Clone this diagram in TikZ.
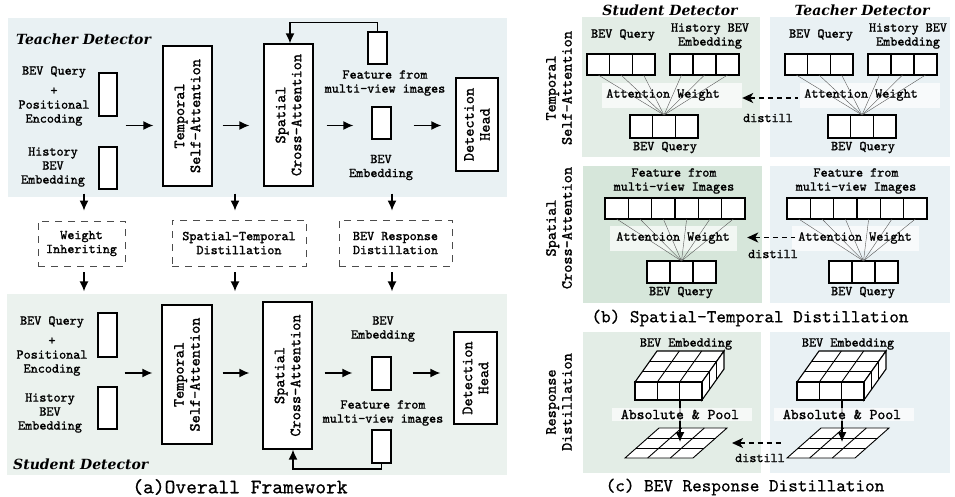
\documentclass[tikz,border=0pt]{standalone}
\usepackage{fontspec}
\setmainfont{Liberation Serif}
\newfontfamily\mono{lmmono10-regular.otf}[FakeBold=1.3]
\newfontfamily\capfont{lmmono10-regular.otf}[FakeBold=0.6]
\newfontfamily\headfam{DejaVu Serif}
\usetikzlibrary{arrows.meta}
\definecolor{tband}{HTML}{E9F1F3}
\definecolor{sband}{HTML}{EBF2EE}
\definecolor{sgreen}{HTML}{E3EDE6}
\definecolor{sgreentwo}{HTML}{D6E6DA}
\definecolor{tblue}{HTML}{E9F1F4}
\tikzset{
 txt/.style={font=\mono\fontsize{13.5}{14}\selectfont, align=center, inner sep=0pt},
 rtxt/.style={font=\mono\fontsize{15.5}{16}\selectfont, align=center, inner sep=0pt, rotate=90},
 bigtxt/.style={font=\mono\fontsize{15}{15}\selectfont, inner sep=0pt},
 head/.style={font=\headfam\fontsize{14}{17}\selectfont\bfseries\itshape, inner sep=0pt},
 capt/.style={font=\capfont\fontsize{18.3}{19}\selectfont, inner sep=0pt},
 blk/.style={draw, line width=1.3pt, fill=white, inner sep=0pt},
 dbox/.style={draw=black!70, dash pattern=on 7pt off 6pt, line width=0.8pt, inner sep=0pt, align=center, font=\mono\fontsize{13.5}{14}\selectfont},
 arr/.style={line width=1.4pt, -{Latex[length=10pt,width=9pt]}},
 dist/.style={line width=1.3pt, dash pattern=on 5pt off 4pt, {Stealth[length=11pt,width=10pt,inset=3pt]}-},
 fan/.style={draw=black!65, line width=0.4pt},
 cell/.style={draw, line width=1.2pt, fill=white, minimum width=#1, minimum height=21pt, inner sep=0pt, outer sep=0pt},
 wband/.style={fill=white, fill opacity=0.7, inner sep=0pt},
 grid/.style={line width=0.9pt},
}
% row 1 of panel (b): temporal self-attention
\newcommand\rowA[1]{%
  \node[wband, minimum width=140pt, minimum height=25pt] (#1band) at (672,95.5) {};
  \node[txt] (#1qt) at (623,35) {BEV Query};
  \node[txt] (#1ht) at (710,36) {History BEV\\Embedding};
  \foreach \i in {0,1,2}{
    \node[cell=22.67pt] (#1a\i) at ({598.33+\i*22.67},64.5) {};
    \node[cell=23pt] (#1h\i) at ({681.5+\i*23},64.5) {};
    \node[cell=22.67pt, minimum height=23pt] (#1b\i) at ({641.33+\i*22.67},126.5) {};
  }
  \foreach \i in {0,1,2}{
    \draw[fan] (#1a\i.south) -- (#1b1.north);
    \draw[fan] (#1h\i.south) -- (#1b1.north);
  }
  \node[txt] (#1aw) at (663,95) {Attention Weight};
  \node[txt] (#1bq) at (665,147.5) {BEV Query};
}
% row 2 of panel (b): spatial cross-attention
\newcommand\rowB[1]{%
  \node[wband, minimum width=127pt, minimum height=25pt] (#1band) at (673.5,238.5) {};
  \node[txt] (#1ft) at (674,181) {Feature from\\multi-view Images};
  \foreach \i in {0,...,5}{
    \node[cell=23.33pt] (#1f\i) at ({616.67+\i*23.33},208.5) {};
  }
  \foreach \i in {0,1,2}{
    \node[cell=23pt, minimum height=22pt] (#1b\i) at ({658.5+\i*23},272) {};
  }
  \foreach \i in {0,...,5}{
    \draw[fan] (#1f\i.south) -- (#1b1.north);
  }
  \node[txt] (#1aw) at (673,238) {Attention Weight};
  \node[txt] (#1bq) at (681,292.5) {BEV Query};
}
% row 3 of panel (c): BEV response
\newcommand\rowC[1]{%
  \node[txt] (#1et) at (686,344) {BEV Embedding};
  % cube
  \filldraw[fill=white, line width=1.1pt] (635,382) -- (702,382) -- (724,351) -- (657,351) -- cycle;
  \filldraw[fill=white, line width=1.1pt] (702,382) -- (724,351) -- (724,369) -- (702,400) -- cycle;
  \filldraw[fill=white, line width=1.1pt] (635,382) rectangle (702,400);
  \foreach \k in {1,2}{
    \draw[grid] ({635+\k*22.33},382) -- ({657+\k*22.33},351);
    \draw[grid] ({635+\k*22/3},{382-\k*31/3}) -- ({702+\k*22/3},{382-\k*31/3});
    \draw[grid] ({635+\k*22.33},382) -- ({635+\k*22.33},400);
    \draw[grid] ({702+\k*22/3},{382-\k*31/3}) -- ({702+\k*22/3},{400-\k*31/3});
  }
  % flat grid
  \filldraw[fill=white, grid] (625,458) -- (693,458) -- (727,428) -- (659,428) -- cycle;
  \foreach \k in {1,2}{
    \draw[grid] ({625+\k*68/3},458) -- ({659+\k*68/3},428);
    \draw[grid] ({625+\k*34/3},{458-\k*10}) -- ({693+\k*34/3},{458-\k*10});
  }
  \coordinate (#1cb) at (680,400);
  \coordinate (#1gc) at (680,442);
  \draw[arr] (#1cb) -- (#1gc);
  \node[wband, minimum width=140pt, minimum height=13pt] (#1band) at (682,414.5) {};
  \node[bigtxt] (#1ap) at (680,414.5) {Absolute \& Pool};
}
\begin{document}
\begin{tikzpicture}[x=1pt,y=-1pt]
\path[use as bounding box] (0,0) rectangle (955,496);
\fill[white] (0,0) rectangle (955,496);

% ================= (a) teacher =================
\fill[tband] (8,18) rectangle (507,197);
\node[head, anchor=west] (thead) at (16,39) {Teacher Detector};
\node[txt] (tqt) at (54,96) {BEV Query\\[6pt]+\\Positional\\Encoding};
\node[txt] (tht) at (53,167) {History\\BEV\\Embedding};
\node[blk, minimum width=18pt, minimum height=43pt] (tq) at (108,94.5) {};
\node[blk, minimum width=18pt, minimum height=42pt] (th) at (108,168) {};
\node[blk, minimum width=49pt, minimum height=140pt] (tsa) at (187.5,116) {};
\node[rtxt] at (tsa) {Temporal\\Self-Attention};
\node[blk, minimum width=49pt, minimum height=142pt] (tsc) at (288.5,115) {};
\node[rtxt] at (tsc) {Spatial\\Cross-Attention};
\node[blk, minimum width=19pt, minimum height=32pt] (tf) at (377.5,48) {};
\node[txt] (tft) at (385,83) {Feature from\\multi-view images};
\node[blk, minimum width=19pt, minimum height=32pt] (te) at (381.5,123) {};
\node[txt] (tet) at (381,167.5) {BEV\\Embedding};
\node[blk, minimum width=42pt, minimum height=93pt] (td) at (477,124.5) {};
\node[rtxt] at (td) {Detection\\Head};
\coordinate (ty) at (0,125.5);
\draw[arr] ([xshift=8pt]tq.east |- ty) -- ([xshift=-9pt]tsa.west |- ty);
\draw[arr] ([xshift=10pt]tsa.east |- ty) -- ([xshift=-14pt]tsc.west |- ty);
\draw[arr] ([xshift=13pt]tsc.east |- ty) -- ([xshift=-18pt]te.west |- ty);
\draw[arr] ([xshift=22pt]te.east |- ty) -- ([xshift=-14pt]td.west |- ty);
\draw[arr] (tf.north) -- ++(0,-9) -| ([xshift=1.5pt]tsc.north);

% ================= (a) middle =================
\node[dbox, minimum width=87pt, minimum height=45pt] (wi) at (81.5,243.5) {Weight\\Inheriting};
\node[dbox, minimum width=134pt, minimum height=46pt] (std) at (239,243) {Spatial-Temporal\\Distillation};
\node[dbox, minimum width=113pt, minimum height=46pt] (brd) at (395.5,243) {BEV Response\\Distillation};
\draw[arr] ([xshift=2.5pt,yshift=27pt]wi.north) -- ([xshift=2.5pt,yshift=10pt]wi.north);
\draw[arr] ([xshift=-4pt,yshift=26pt]std.north) -- ([xshift=-4pt,yshift=9pt]std.north);
\draw[arr] ([xshift=-3.5pt,yshift=26pt]brd.north) -- ([xshift=-3.5pt,yshift=9pt]brd.north);
\draw[arr] ([xshift=2.5pt,yshift=-6pt]wi.south) -- ([xshift=2.5pt,yshift=-25pt]wi.south);
\draw[arr] ([xshift=-4pt,yshift=-6pt]std.south) -- ([xshift=-4pt,yshift=-25pt]std.south);
\draw[arr] ([xshift=-3.5pt,yshift=-6pt]brd.south) -- ([xshift=-3.5pt,yshift=-25pt]brd.south);

% ================= (a) student =================
\fill[sband] (7,294) rectangle (507,475);
\node[head, anchor=west] (shead) at (13,464) {Student Detector};
\node[txt] (sqt) at (52,346) {BEV Query\\[6pt]+\\Positional\\Encoding};
\node[txt] (sht) at (50,413) {History\\BEV\\Embedding};
\node[blk, minimum width=19pt, minimum height=44pt] (sq) at (107.5,335) {};
\node[blk, minimum width=19pt, minimum height=42pt] (sh) at (107.5,408) {};
\node[blk, minimum width=50pt, minimum height=139pt] (ssa) at (187,374.5) {};
\node[rtxt] at (ssa) {Temporal\\Self-Attention};
\node[blk, minimum width=49pt, minimum height=147pt] (ssc) at (287.5,375.5) {};
\node[rtxt] at (ssc) {Spatial\\Cross-Attention};
\node[txt] (set) at (383,329) {BEV\\Embedding};
\node[blk, minimum width=19pt, minimum height=33pt] (se) at (381.5,373.5) {};
\node[txt] (sft) at (383,413) {Feature from\\multi-view images};
\node[blk, minimum width=19pt, minimum height=33pt] (sf) at (381.5,446.5) {};
\node[blk, minimum width=43pt, minimum height=92pt] (sd) at (475.5,378) {};
\node[rtxt] at (sd) {Detection\\Head};
\coordinate (sy) at (0,373);
\draw[arr] ([xshift=7pt]sq.east |- sy) -- ([xshift=-9pt]ssa.west |- sy);
\draw[arr] ([xshift=10pt]ssa.east |- sy) -- ([xshift=-13pt]ssc.west |- sy);
\draw[arr] ([xshift=12pt]ssc.east |- sy) -- ([xshift=-19pt]se.west |- sy);
\draw[arr] ([xshift=21pt]se.east |- sy) -- ([xshift=-13pt]sd.west |- sy);
\draw[arr] (sf.south) -- ++(0,5.5) -| ([xshift=5.5pt]ssc.south);
\node[capt, font=\capfont\fontsize{20.5}{21}\selectfont] (capa) at (240,487) {(a)Overall Framework};

% ================= (b)/(c) right panel =================
\node[rtxt] (lab1) at (559,88) {Temporal\\Self-Attention};
\node[rtxt] (lab2) at (559,228) {Spatial\\Cross-Attention};
\node[rtxt] (lab3) at (559,402) {Response\\Distillation};
\node[head] (shd) at (670,10) {Student Detector};
\node[head] (thd) at (862,10) {Teacher Detector};

\fill[sgreen] (582,17) rectangle (760,157);
\fill[tblue] (770,17) rectangle (950,157);
\fill[sgreentwo] (583,166) rectangle (762,303);
\fill[tblue] (770,166) rectangle (950,303);
\fill[sgreen] (583,332) rectangle (761,473);
\fill[tblue] (770,332) rectangle (950,473);

\rowA{sA}
\begin{scope}[xshift=198pt]\rowA{tA}\end{scope}
\rowB{sB}
\begin{scope}[xshift=182pt]\rowB{tB}\end{scope}
\rowC{sC}
\begin{scope}[xshift=162pt]\rowC{tC}\end{scope}

\draw[dist] ([yshift=-2.5pt]sAband.east) -- ([xshift=-2pt,yshift=-2.5pt]tAband.west);
\node[txt] (dA) at (768,118) {distill};
\draw[dist] ([xshift=10pt,yshift=1pt]sBband.east) -- ([xshift=3pt,yshift=1pt]tBband.west);
\node[txt] (dB) at (773,254) {distill};
\coordinate (dCs) at (732,443);
\coordinate (dCe) at (783,443);
\draw[dist] (dCs) -- (dCe);
\node[txt] (dC) at (760,458) {distill};

\node[capt] (capb) at (750,318) {(b) Spatial-Temporal Distillation};
\node[capt] (capc) at (745,487) {(c) BEV Response Distillation};
\end{tikzpicture}
\end{document}
